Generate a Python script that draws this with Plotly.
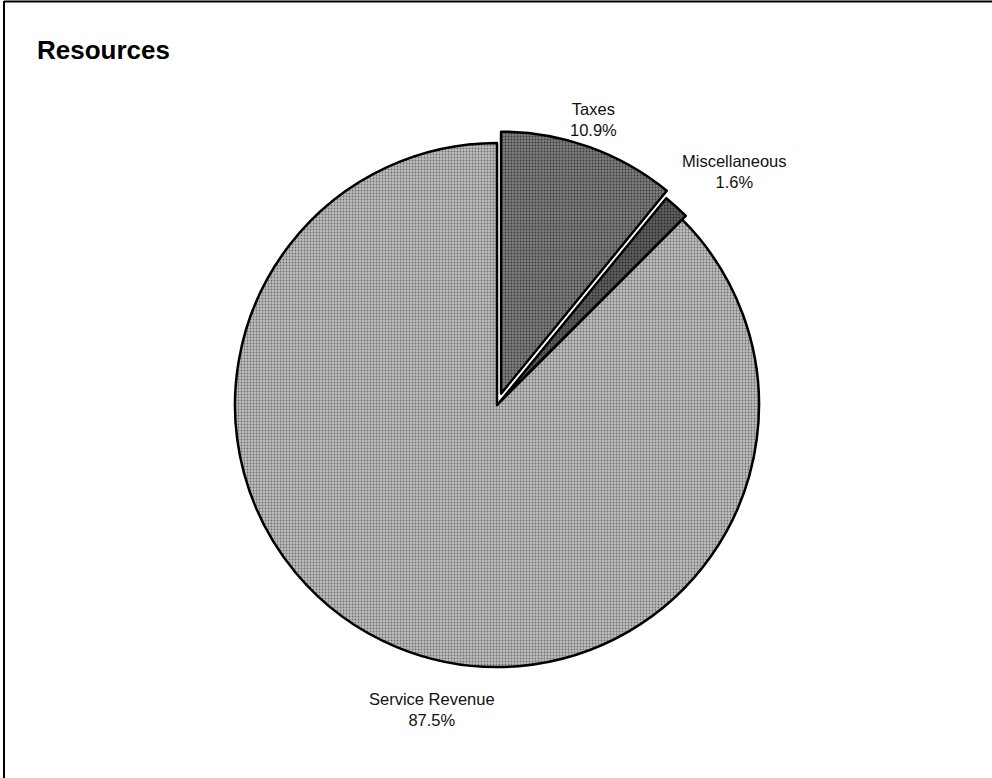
import plotly.graph_objects as go

# Resource shares (percent of total)
categories = ["Taxes", "Miscellaneous", "Service Revenue"]
shares = [10.9, 1.6, 87.5]
explode = [0.046, 0.02, 0.0]
fill_colors = ["#7d7d7d", "#5e5e5e", "#bdbdbd"]
dot_colors = ["#3a3a3a", "#2a2a2a", "#6e6e6e"]

W, H = 992, 778
cx, cy, radius = 497, 405, 262
max_pull = max(explode)
half = radius * (1 + max_pull)

fig = go.Figure(
    go.Pie(
        labels=categories,
        values=shares,
        sort=False,
        direction="clockwise",
        rotation=0,
        pull=explode,
        textinfo="none",
        hoverinfo="label+percent",
        marker=dict(
            colors=fill_colors,
            line=dict(color="#000000", width=2.5),
            pattern=dict(shape=".", bgcolor=fill_colors, fgcolor=dot_colors,
                         size=3, solidity=0.3),
        ),
        domain=dict(
            x=[(cx - half) / W, (cx + half) / W],
            y=[1 - (cy + half) / H, 1 - (cy - half) / H],
        ),
        showlegend=False,
    )
)

# Slice labels (name + share), placed outside the pie
label_pos = {
    "Taxes": (593, 120),
    "Miscellaneous": (734, 172),
    "Service Revenue": (432, 709),
}
annotations = []
for name, val in zip(categories, shares):
    x, y = label_pos[name]
    annotations.append(
        dict(
            x=x / W, y=1 - y / H, xref="paper", yref="paper",
            text=f"{name}<br>{val:.1f}%", showarrow=False,
            font=dict(family="Liberation Sans, Arial, sans-serif", size=16.5, color="#111111"),
            align="center", xanchor="center", yanchor="middle",
        )
    )

annotations.append(
    dict(
        x=35 / W, y=1 - 50 / H, xref="paper", yref="paper",
        text="<b>Resources</b>", showarrow=False,
        font=dict(family="Liberation Sans, Arial, sans-serif", size=26, color="#000000"),
        xanchor="left", yanchor="middle",
    )
)

# Chart frame (top and left edges)
shapes = [
    dict(type="line", xref="paper", yref="paper", x0=4 / W, x1=1, y0=1 - 1.5 / H, y1=1 - 1.5 / H,
         line=dict(color="#000000", width=2)),
    dict(type="line", xref="paper", yref="paper", x0=4 / W, x1=4 / W, y0=1 - 1 / H, y1=0,
         line=dict(color="#000000", width=2)),
]

fig.update_layout(
    width=W, height=H,
    margin=dict(l=0, r=0, t=0, b=0),
    paper_bgcolor="#ffffff",
    plot_bgcolor="#ffffff",
    annotations=annotations,
    shapes=shapes,
)

fig.write_html("out.html")
